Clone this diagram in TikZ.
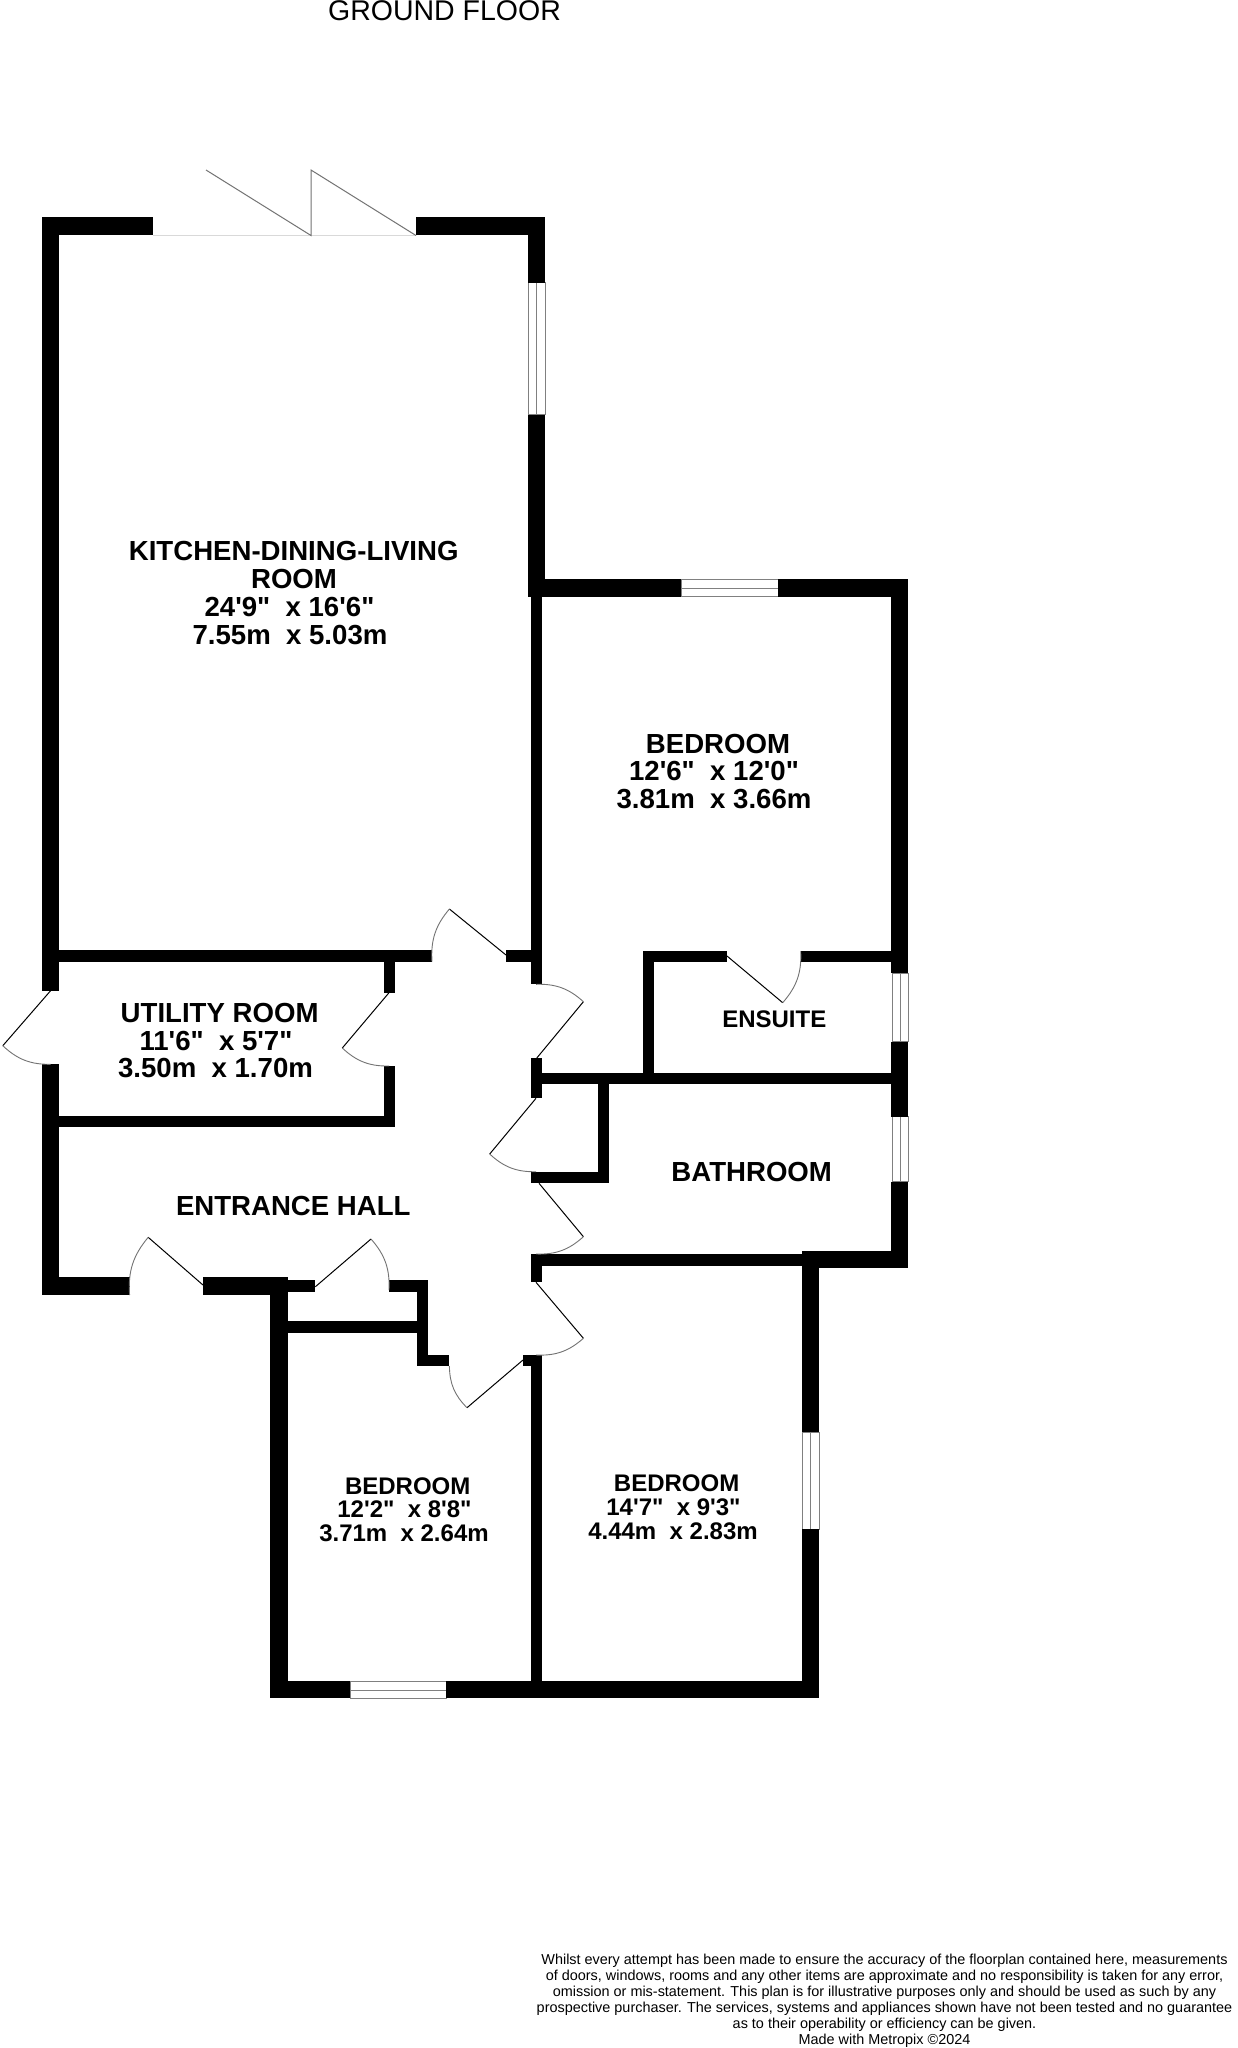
\documentclass[tikz,border=0pt]{standalone}
\usepackage{fontspec}
\setmainfont{Liberation Sans}
\newfontfamily\lblbold{Liberation Sans Bold}
\newfontfamily\lblreg{Liberation Sans}
\newcommand{\wallrect}[4]{\fill[wallfill] (#1,#2) rectangle (#3,#4);}
\newcommand{\winrect}[4]{\draw[winframe] (#1,#2) rectangle (#3,#4);}
\newcommand{\doorleaf}[7]{%
  \draw[leafline] (#1,#2) -- (#3,#4);
  \draw[swingline] (#3,#4) to[#7] (#5,#6);}
\tikzset{
  wallfill/.style={fill=black},
  winframe/.style={draw=black!50,line width=0.9pt,fill=white},
  winmid/.style={draw=black!50,line width=0.9pt},
  leafline/.style={draw=black,line width=1pt},
  swingline/.style={draw=black!55,line width=0.9pt},
  foldline/.style={draw=black!55,line width=1pt},
  sillline/.style={draw=black!15,line width=1pt},
  boldlbl/.style={inner sep=0pt,anchor=base,font=\lblbold\fontsize{27.6}{28}\selectfont},
  smalllbl/.style={inner sep=0pt,anchor=base,font=\lblbold\fontsize{24}{26}\selectfont},
  ensuitelbl/.style={inner sep=0pt,anchor=base,font=\lblbold\fontsize{24}{26}\selectfont},
  titlelbl/.style={inner sep=0pt,anchor=base,font=\lblreg\fontsize{28.5}{30}\selectfont},
  notelbl/.style={inner sep=0pt,anchor=base,font=\lblreg\fontsize{14.42}{16}\selectfont},
}
\begin{document}
\begin{tikzpicture}[x=1pt,y=-1pt]
\useasboundingbox (0,0) rectangle (1237,2048);
\clip (0,0) rectangle (1237,2048);
\fill[white] (0,0) rectangle (1237,2048);

% windows
\winrect{528.5}{282.7}{545}{414.7}
\draw[winmid] (536.5,282.7) -- (536.5,414.7);
\winrect{681}{579.5}{778.3}{596.5}
\draw[winmid] (681,588) -- (778.3,588);
\winrect{892}{973}{908}{1041.7}
\draw[winmid] (900,973) -- (900,1041.7);
\winrect{892}{1116.7}{908}{1181.7}
\draw[winmid] (900,1116.7) -- (900,1181.7);
\winrect{350}{1681.5}{446.4}{1698}
\draw[winmid] (350,1690) -- (446.4,1690);
\winrect{802.5}{1432.3}{819}{1529}
\draw[winmid] (810.7,1432.3) -- (810.7,1529);

% folding doors
\draw[sillline] (153.4,235.5) -- (416,235.5);
\draw[foldline] (206,170) -- (311,235.5) -- (311,170) -- (416,235.5);

% walls
\wallrect{42}{217.3}{153.4}{235}
\wallrect{416}{217.3}{545}{235}
\wallrect{42}{217.3}{59.3}{990.7}
\wallrect{42}{1064.3}{59.3}{1295}
\wallrect{528}{217.3}{545}{282.7}
\wallrect{528}{414.7}{545}{596.7}
\wallrect{528}{579}{681}{596.7}
\wallrect{778.3}{579}{908}{596.7}
\wallrect{891}{579}{908}{973}
\wallrect{891}{1041.7}{908}{1116.7}
\wallrect{891}{1181.7}{908}{1268.3}
\wallrect{531}{596.7}{542}{984.3}
\wallrect{531}{1058}{542}{1098.3}
\wallrect{531}{1254}{542}{1282.3}
\wallrect{531}{1355}{542}{1690}
\wallrect{523}{1355}{542}{1366}
\wallrect{59}{950.3}{432}{961.7}
\wallrect{506}{950.3}{531}{961.7}
\wallrect{384}{961.7}{394.5}{992.7}
\wallrect{384}{1066}{394.5}{1127}
\wallrect{59}{1115.7}{394.5}{1127}
\wallrect{42}{1277.3}{129.6}{1295}
\wallrect{203}{1277.3}{287}{1295}
\wallrect{287}{1280.3}{315.4}{1292}
\wallrect{389}{1280.3}{428}{1292}
\wallrect{417}{1280.3}{428}{1366}
\wallrect{417}{1355}{449.4}{1366}
\wallrect{287}{1321}{417}{1332.7}
\wallrect{270}{1277.3}{287.6}{1698.3}
\wallrect{270}{1681}{350}{1698.3}
\wallrect{446.4}{1681}{819}{1698.3}
\wallrect{802}{1251.3}{819}{1432.3}
\wallrect{802}{1529}{819}{1698.3}
\wallrect{531}{1073.3}{891}{1084.3}
\wallrect{531}{1171.7}{609}{1183.3}
\wallrect{598}{1073.3}{609}{1183.3}
\wallrect{531}{1254}{802}{1265.7}
\wallrect{802}{1251.3}{908}{1268.3}
\wallrect{643.3}{950.7}{727}{961.7}
\wallrect{800.7}{950.7}{891}{961.7}
\wallrect{643.3}{950.7}{654.3}{1084}

% doors: hinge, tip, end of swing
\doorleaf{506}{955}{449.4}{909}{432}{961.7}{bend right=22}
\doorleaf{50.6}{990.7}{2.8}{1045.7}{50.6}{1064.3}{bend right=22}
\doorleaf{389}{992.7}{342.3}{1048}{389}{1066}{bend right=22}
\doorleaf{536.8}{1058}{583.4}{1001.7}{536}{984.3}{bend right=22}
\doorleaf{536}{1098.3}{489.7}{1154}{536}{1171.7}{bend right=22}
\doorleaf{539}{1183.3}{583.4}{1236.7}{536}{1254}{bend left=22}
\doorleaf{536}{1282.3}{583.4}{1338.3}{536}{1355}{bend left=22}
\doorleaf{523}{1360}{467}{1407.7}{449.4}{1366}{bend left=22}
\doorleaf{203}{1285}{148.2}{1237.3}{129.6}{1295}{bend right=22}
\doorleaf{315.4}{1286.7}{371}{1239}{389}{1290}{bend left=22}
\doorleaf{727}{956}{782.7}{1002.7}{800.7}{951}{bend right=22}

% labels
\node[titlelbl] (title) at (444.5,20.5) {GROUND FLOOR};

\node[boldlbl] (kit1) at (293.7,560.7) {KITCHEN-DINING-LIVING};
\node[boldlbl] (kit2) at (294,588.7) {ROOM};
\node[boldlbl] (kit3) at (289.5,616.7) {24'9"\ \ x 16'6"};
\node[boldlbl] (kit4) at (290,644.3) {7.55m\ \ x 5.03m};

\node[boldlbl] (bedA1) at (718,753) {BEDROOM};
\node[boldlbl] (bedA2) at (714,780.7) {12'6"\ \ x 12'0"};
\node[boldlbl] (bedA3) at (714,808) {3.81m\ \ x 3.66m};

\node[boldlbl] (util1) at (219.6,1022.3) {UTILITY ROOM};
\node[boldlbl] (util2) at (216,1050) {11'6"\ \ x 5'7"};
\node[boldlbl] (util3) at (215.5,1077.7) {3.50m\ \ x 1.70m};

\node[boldlbl] (hall) at (293.3,1215) {ENTRANCE HALL};
\node[ensuitelbl] (ens) at (774.3,1027.3) {ENSUITE};
\node[boldlbl] (bath) at (751.7,1181) {BATHROOM};

\node[smalllbl] (bedB1) at (407.7,1494) {BEDROOM};
\node[smalllbl] (bedB2) at (404.5,1517.7) {12'2"\ \ x 8'8"};
\node[smalllbl] (bedB3) at (404,1541.7) {3.71m\ \ x 2.64m};

\node[smalllbl] (bedC1) at (676.6,1491.7) {BEDROOM};
\node[smalllbl] (bedC2) at (673.5,1515.7) {14'7"\ \ x 9'3"};
\node[smalllbl] (bedC3) at (673,1539.7) {4.44m\ \ x 2.83m};

\node[notelbl] (note1) at (884.5,1964) {Whilst every attempt has been made to ensure the accuracy of the floorplan contained here, measurements};
\node[notelbl] (note2) at (884.5,1980) {of doors, windows, rooms and any other items are approximate and no responsibility is taken for any error,};
\node[notelbl] (note3) at (884.5,1996) {omission or mis-statement. This plan is for illustrative purposes only and should be used as such by any};
\node[notelbl] (note4) at (884.5,2012) {prospective purchaser. The services, systems and appliances shown have not been tested and no guarantee};
\node[notelbl] (note5) at (884.5,2028) {as to their operability or efficiency can be given.};
\node[notelbl] (note6) at (884.5,2044) {Made with Metropix \textcopyright 2024};
\end{tikzpicture}
\end{document}
